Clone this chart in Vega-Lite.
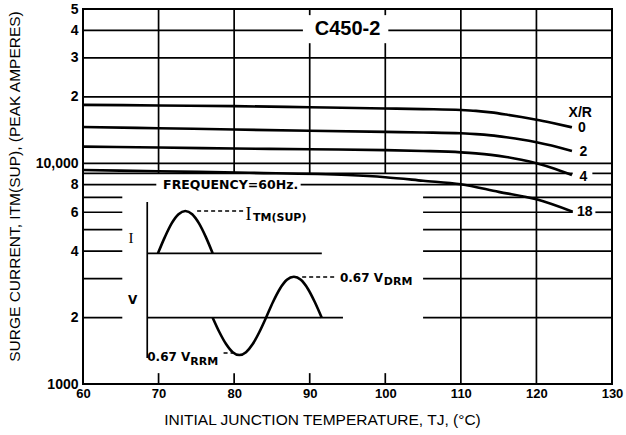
{
  "$schema": "https://vega.github.io/schema/vega-lite/v6.json",
  "width": 529,
  "height": 375,
  "autosize": "none",
  "padding": {"left": 83, "top": 9, "right": 14, "bottom": 51},
  "background": "white",
  "config": {"view": {"stroke": "black", "strokeWidth": 2}},
  "datasets": {
    "hgrid": [
      {"v": 40000, "a": 60, "b": 89.1}, {"v": 40000, "a": 100.4, "b": 130},
      {"v": 30000, "a": 60, "b": 130}, {"v": 20000, "a": 60, "b": 130}, {"v": 10000, "a": 60, "b": 130},
      {"v": 9000, "a": 60, "b": 124.8}, {"v": 9000, "a": 127.4, "b": 130},
      {"v": 8000, "a": 60, "b": 69.7}, {"v": 8000, "a": 88.8, "b": 130},
      {"v": 7000, "a": 60, "b": 65.2}, {"v": 7000, "a": 105, "b": 130},
      {"v": 6000, "a": 60, "b": 65.2}, {"v": 6000, "a": 105, "b": 124.8}, {"v": 6000, "a": 127.8, "b": 130},
      {"v": 5000, "a": 60, "b": 65.2}, {"v": 5000, "a": 105, "b": 130},
      {"v": 4000, "a": 60, "b": 65.2}, {"v": 4000, "a": 105, "b": 130},
      {"v": 3000, "a": 60, "b": 65.2}, {"v": 3000, "a": 105, "b": 130},
      {"v": 2000, "a": 60, "b": 65.2}, {"v": 2000, "a": 105, "b": 130}
    ],
    "vgrid": [
      {"t": 70, "a": 9000, "b": 50000}, {"t": 70, "a": 1000, "b": 1120},
      {"t": 80, "a": 9000, "b": 50000}, {"t": 80, "a": 1000, "b": 1120},
      {"t": 90, "a": 46900, "b": 50000}, {"t": 90, "a": 9000, "b": 35000}, {"t": 90, "a": 1000, "b": 1120},
      {"t": 100, "a": 46900, "b": 50000}, {"t": 100, "a": 9000, "b": 35000}, {"t": 100, "a": 1000, "b": 1120},
      {"t": 110, "a": 1000, "b": 50000}, {"t": 120, "a": 1000, "b": 50000}
    ],
    "curves": [
      {"s": "0", "t": 60, "i": 18400}, {"s": "0", "t": 70, "i": 18280}, {"s": "0", "t": 80, "i": 18150},
      {"s": "0", "t": 90, "i": 17950}, {"s": "0", "t": 100, "i": 17720}, {"s": "0", "t": 105, "i": 17600},
      {"s": "0", "t": 110, "i": 17440}, {"s": "0", "t": 112, "i": 17280}, {"s": "0", "t": 114, "i": 17000},
      {"s": "0", "t": 116, "i": 16620}, {"s": "0", "t": 118, "i": 16200}, {"s": "0", "t": 120, "i": 15750},
      {"s": "0", "t": 122, "i": 15250}, {"s": "0", "t": 124.7, "i": 14550},
      {"s": "2", "t": 60, "i": 14600}, {"s": "2", "t": 70, "i": 14420}, {"s": "2", "t": 80, "i": 14220},
      {"s": "2", "t": 90, "i": 14050}, {"s": "2", "t": 100, "i": 13870}, {"s": "2", "t": 105, "i": 13790},
      {"s": "2", "t": 110, "i": 13670}, {"s": "2", "t": 112, "i": 13560}, {"s": "2", "t": 114, "i": 13380},
      {"s": "2", "t": 116, "i": 13120}, {"s": "2", "t": 118, "i": 12820}, {"s": "2", "t": 120, "i": 12460},
      {"s": "2", "t": 122, "i": 12040}, {"s": "2", "t": 124.7, "i": 11370},
      {"s": "4", "t": 60, "i": 11900}, {"s": "4", "t": 70, "i": 11780}, {"s": "4", "t": 80, "i": 11670},
      {"s": "4", "t": 90, "i": 11570}, {"s": "4", "t": 100, "i": 11470}, {"s": "4", "t": 105, "i": 11370},
      {"s": "4", "t": 110, "i": 11210}, {"s": "4", "t": 112, "i": 11090}, {"s": "4", "t": 114, "i": 10920},
      {"s": "4", "t": 116, "i": 10680}, {"s": "4", "t": 118, "i": 10370}, {"s": "4", "t": 120, "i": 10000},
      {"s": "4", "t": 122, "i": 9550}, {"s": "4", "t": 124.7, "i": 8850},
      {"s": "18", "t": 60, "i": 9320}, {"s": "18", "t": 70, "i": 9200}, {"s": "18", "t": 82, "i": 9060},
      {"s": "18", "t": 95, "i": 8850}, {"s": "18", "t": 100, "i": 8650}, {"s": "18", "t": 105, "i": 8340},
      {"s": "18", "t": 110, "i": 8030}, {"s": "18", "t": 115, "i": 7420}, {"s": "18", "t": 120, "i": 6870},
      {"s": "18", "t": 124.8, "i": 6035}
    ],
    "clabels": [
      {"t": 125.8, "v": 16980, "txt": "X/R"},
      {"t": 126.0, "v": 14450, "txt": "0"},
      {"t": 126.2, "v": 11245, "txt": "2"},
      {"t": 126.2, "v": 8667, "txt": "4"},
      {"t": 126.4, "v": 6015, "txt": "18"}
    ],
    "wave": [
      {"s": "I", "t": 69.92, "u": 3.485}, {"s": "I", "t": 70.83, "u": 3.917}, {"s": "I", "t": 71.73, "u": 4.283},
      {"s": "I", "t": 72.64, "u": 4.527}, {"s": "I", "t": 73.54, "u": 4.613}, {"s": "I", "t": 74.45, "u": 4.527},
      {"s": "I", "t": 75.35, "u": 4.283}, {"s": "I", "t": 76.26, "u": 3.917}, {"s": "I", "t": 77.16, "u": 3.485},
      {"s": "V", "t": 77.16, "u": 1.768}, {"s": "V", "t": 78.04, "u": 1.387}, {"s": "V", "t": 78.93, "u": 1.065},
      {"s": "V", "t": 79.81, "u": 0.849}, {"s": "V", "t": 80.69, "u": 0.773}, {"s": "V", "t": 81.57, "u": 0.849},
      {"s": "V", "t": 82.46, "u": 1.065}, {"s": "V", "t": 83.34, "u": 1.387}, {"s": "V", "t": 84.22, "u": 1.768},
      {"s": "V", "t": 85.14, "u": 2.187}, {"s": "V", "t": 86.06, "u": 2.541}, {"s": "V", "t": 86.98, "u": 2.778},
      {"s": "V", "t": 87.91, "u": 2.861}, {"s": "V", "t": 88.83, "u": 2.778}, {"s": "V", "t": 89.75, "u": 2.541},
      {"s": "V", "t": 90.67, "u": 2.187}, {"s": "V", "t": 91.59, "u": 1.768}
    ],
    "insetRules": [
      {"a": 68.5, "b": 91.6, "u1": 3.485, "u2": 3.485},
      {"a": 68.5, "b": 94.4, "u1": 1.768, "u2": 1.768},
      {"a": 68.5, "b": 68.5, "u1": 0.693, "u2": 4.853}
    ],
    "insetDash": [
      {"a": 75.1, "b": 81.4, "u": 4.613},
      {"a": 89.0, "b": 93.4, "u": 2.853},
      {"a": 78.6, "b": 80.3, "u": 0.827}
    ],
    "insetMain": [
      {"t": 65.95, "u": 2.24, "txt": "V"},
      {"t": 94.0, "u": 2.84, "txt": "0.67 V"},
      {"t": 68.5, "u": 0.707, "txt": "0.67 V"}
    ],
    "insetSub": [
      {"t": 82.5, "u": 4.43, "txt": "TM(SUP)"},
      {"t": 99.8, "u": 2.73, "txt": "DRM"},
      {"t": 74.2, "u": 0.59, "txt": "RRM"}
    ],
    "insetSerif": [
      {"t": 66.35, "u": 3.89, "txt": "I"}
    ],
    "insetSerifBig": [
      {"t": 81.9, "u": 4.52, "txt": "I"}
    ]
  },
  "layer": [
    {
      "layer": [
        {
          "data": {"name": "hgrid"},
          "mark": {"type": "rule", "stroke": "black", "strokeWidth": 1.7},
          "encoding": {
            "x": {
              "field": "a", "type": "quantitative",
              "scale": {"domain": [60, 130], "nice": false},
              "axis": {
                "values": [60, 70, 80, 90, 100, 110, 120, 130],
                "title": "INITIAL JUNCTION TEMPERATURE, TJ, (°C)",
                "ticks": false, "domain": false, "grid": false,
                "labelFont": "Liberation Sans", "labelFontWeight": "bold", "labelFontSize": 13,
                "labelColor": "black", "labelPadding": 3, "labelFlush": false, "labelOverlap": false,
                "titleFont": "Liberation Sans", "titleFontWeight": "normal", "titleFontSize": 15.5,
                "titleColor": "black", "titleX": 239, "titleY": 35,
                "titleAlign": "center", "titleBaseline": "middle"
              }
            },
            "x2": {"field": "b"},
            "y": {
              "field": "v", "type": "quantitative",
              "scale": {"type": "log", "domain": [1000, 50000], "nice": false},
              "axis": {
                "values": [1000, 2000, 4000, 6000, 8000, 10000, 20000, 30000, 40000, 50000],
                "labelExpr": "datum.value == 1000 ? '1000' : datum.value == 10000 ? '10,000' : datum.value < 10000 ? format(datum.value / 1000, 'd') : format(datum.value / 10000, 'd')",
                "title": "SURGE CURRENT, ITM(SUP), (PEAK AMPERES)",
                "ticks": false, "domain": false, "grid": false,
                "labelFont": "Liberation Sans", "labelFontWeight": "bold", "labelFontSize": 14,
                "labelColor": "black", "labelPadding": 5, "labelOverlap": false,
                "titleFont": "Liberation Sans", "titleFontWeight": "normal", "titleFontSize": 15.5,
                "titleColor": "black", "titleX": -69, "titleY": 177, "titleAngle": 270,
                "titleAlign": "center", "titleBaseline": "middle"
              }
            }
          }
        },
        {
          "data": {"name": "vgrid"},
          "mark": {"type": "rule", "stroke": "black", "strokeWidth": 1.7},
          "encoding": {
            "x": {"field": "t", "type": "quantitative", "scale": {"domain": [60, 130], "nice": false}},
            "y": {"field": "a", "type": "quantitative", "scale": {"type": "log", "domain": [1000, 50000], "nice": false}},
            "y2": {"field": "b"}
          }
        },
        {
          "data": {"name": "curves"},
          "mark": {"type": "line", "stroke": "black", "strokeWidth": 2.6, "interpolate": "monotone"},
          "encoding": {
            "x": {"field": "t", "type": "quantitative", "scale": {"domain": [60, 130], "nice": false}},
            "y": {"field": "i", "type": "quantitative", "scale": {"type": "log", "domain": [1000, 50000], "nice": false}},
            "detail": {"field": "s", "type": "nominal"}
          }
        },
        {
          "data": {"name": "clabels"},
          "mark": {"type": "text", "font": "Liberation Sans", "fontWeight": "bold", "fontSize": 14, "color": "black", "align": "center", "baseline": "middle"},
          "encoding": {
            "x": {"field": "t", "type": "quantitative", "scale": {"domain": [60, 130], "nice": false}},
            "y": {"field": "v", "type": "quantitative", "scale": {"type": "log", "domain": [1000, 50000], "nice": false}},
            "text": {"field": "txt"}
          }
        },
        {
          "data": {"values": [{"t": 95, "v": 40500, "txt": "C450-2"}]},
          "mark": {"type": "text", "font": "Liberation Sans", "fontWeight": "bold", "fontSize": 20, "color": "black", "align": "center", "baseline": "middle"},
          "encoding": {
            "x": {"field": "t", "type": "quantitative", "scale": {"domain": [60, 130], "nice": false}},
            "y": {"field": "v", "type": "quantitative", "scale": {"type": "log", "domain": [1000, 50000], "nice": false}},
            "text": {"field": "txt"}
          }
        },
        {
          "data": {"values": [{"t": 70.6, "v": 8000, "txt": "FREQUENCY=60Hz."}]},
          "mark": {"type": "text", "font": "DejaVu Sans", "fontWeight": "bold", "fontSize": 12.5, "color": "black", "align": "left", "baseline": "middle"},
          "encoding": {
            "x": {"field": "t", "type": "quantitative", "scale": {"domain": [60, 130], "nice": false}},
            "y": {"field": "v", "type": "quantitative", "scale": {"type": "log", "domain": [1000, 50000], "nice": false}},
            "text": {"field": "txt"}
          }
        }
      ]
    },
    {
      "layer": [
        {
          "data": {"name": "wave"},
          "mark": {"type": "line", "stroke": "black", "strokeWidth": 2.6, "interpolate": "monotone"},
          "encoding": {
            "x": {"field": "t", "type": "quantitative", "scale": {"domain": [60, 130], "nice": false}},
            "y": {"field": "u", "type": "quantitative", "scale": {"domain": [0, 10], "nice": false, "zero": false}, "axis": null},
            "detail": {"field": "s", "type": "nominal"}
          }
        },
        {
          "data": {"name": "insetRules"},
          "mark": {"type": "rule", "stroke": "black", "strokeWidth": 1.7},
          "encoding": {
            "x": {"field": "a", "type": "quantitative", "scale": {"domain": [60, 130], "nice": false}},
            "x2": {"field": "b"},
            "y": {"field": "u1", "type": "quantitative", "scale": {"domain": [0, 10], "nice": false, "zero": false}, "axis": null},
            "y2": {"field": "u2"}
          }
        },
        {
          "data": {"name": "insetDash"},
          "mark": {"type": "rule", "stroke": "black", "strokeWidth": 1.3, "strokeDash": [4, 3]},
          "encoding": {
            "x": {"field": "a", "type": "quantitative", "scale": {"domain": [60, 130], "nice": false}},
            "x2": {"field": "b"},
            "y": {"field": "u", "type": "quantitative", "scale": {"domain": [0, 10], "nice": false, "zero": false}, "axis": null}
          }
        },
        {
          "data": {"name": "insetMain"},
          "mark": {"type": "text", "font": "DejaVu Sans", "fontWeight": "bold", "fontSize": 12, "color": "black", "align": "left", "baseline": "middle"},
          "encoding": {
            "x": {"field": "t", "type": "quantitative", "scale": {"domain": [60, 130], "nice": false}},
            "y": {"field": "u", "type": "quantitative", "scale": {"domain": [0, 10], "nice": false, "zero": false}, "axis": null},
            "text": {"field": "txt"}
          }
        },
        {
          "data": {"name": "insetSub"},
          "mark": {"type": "text", "font": "DejaVu Sans", "fontWeight": "bold", "fontSize": 11, "color": "black", "align": "left", "baseline": "middle"},
          "encoding": {
            "x": {"field": "t", "type": "quantitative", "scale": {"domain": [60, 130], "nice": false}},
            "y": {"field": "u", "type": "quantitative", "scale": {"domain": [0, 10], "nice": false, "zero": false}, "axis": null},
            "text": {"field": "txt"}
          }
        },
        {
          "data": {"name": "insetSerif"},
          "mark": {"type": "text", "font": "Liberation Serif", "fontWeight": "normal", "fontSize": 15, "color": "black", "align": "center", "baseline": "middle"},
          "encoding": {
            "x": {"field": "t", "type": "quantitative", "scale": {"domain": [60, 130], "nice": false}},
            "y": {"field": "u", "type": "quantitative", "scale": {"domain": [0, 10], "nice": false, "zero": false}, "axis": null},
            "text": {"field": "txt"}
          }
        },
        {
          "data": {"name": "insetSerifBig"},
          "mark": {"type": "text", "font": "Liberation Serif", "fontWeight": "normal", "fontSize": 18, "color": "black", "align": "center", "baseline": "middle"},
          "encoding": {
            "x": {"field": "t", "type": "quantitative", "scale": {"domain": [60, 130], "nice": false}},
            "y": {"field": "u", "type": "quantitative", "scale": {"domain": [0, 10], "nice": false, "zero": false}, "axis": null},
            "text": {"field": "txt"}
          }
        }
      ]
    }
  ],
  "resolve": {"scale": {"y": "independent"}}
}
